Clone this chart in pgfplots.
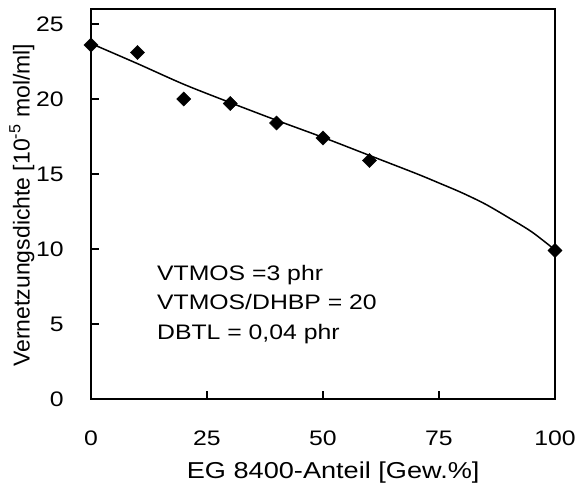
\documentclass[border=0pt]{standalone}
\usepackage{pgfplots}
\pgfplotsset{compat=1.18}
\usepackage{fontspec}
\setmainfont{Liberation Sans}
\pgfplotstableread{
x y
0 23.6
10 23.1
20 20.0
30 19.7
40 18.4
50 17.4
60 15.9
100 9.9
}\measured
\pgfplotstableread{
x y
0 23.70
10 22.36
20 20.98
30 19.76
40 18.58
50 17.44
60 16.24
70 15.04
75 14.40
80 13.74
85 12.99
90 12.09
95 11.14
100 9.94
}\fitcurve
\begin{document}
\begin{tikzpicture}
\begin{axis}[
  at={(0,0)}, anchor=south west,
  scale only axis, width=464pt, height=390pt,
  xmin=0, xmax=100, ymin=0, ymax=26,
  xtick={0,25,50,75,100}, ytick={0,5,10,15,20,25},
  tick pos=left, tick align=inside, major tick length=8pt,
  tick style={line width=1.5pt, black},
  axis line style={line width=2pt},
  font=\fontsize{21}{25}\selectfont,
  /pgf/number format/assume math mode=true,
  ticklabel style={font=\fontsize{21}{25}\selectfont, xscale=1.18},
  xticklabel style={anchor=base, yshift=-46pt},
  yticklabel style={anchor=east, inner sep=0pt, xshift=-23pt},
  xlabel={EG 8400-Anteil [Gew.\%]},
  ylabel={Vernetzungsdichte [10\textsuperscript{-5} mol/ml]},
  xlabel style={at={(axis description cs:0.522,-0.2026)}, anchor=base, font=\fontsize{23}{27}\selectfont, xscale=1.18},
  ylabel style={at={(axis description cs:-0.1325,0.497)}, anchor=base, font=\fontsize{23}{27}\selectfont},
  clip=false,
]
\addplot[black, line width=1.5pt, smooth, no marks] table {\fitcurve};
\addplot[only marks, mark=square*, mark size=5pt, mark options={rotate=45, fill=black, draw=black}] table {\measured};
\node[anchor=base west, inner sep=0pt, xscale=1.18] at (axis cs:14.2,7.93) {VTMOS =3 phr};
\node[anchor=base west, inner sep=0pt, xscale=1.18] at (axis cs:14.2,5.95) {VTMOS/DHBP = 20};
\node[anchor=base west, inner sep=0pt, xscale=1.18] at (axis cs:14.2,4.0) {DBTL = 0,04 phr};
\end{axis}
\pgfresetboundingbox
\path[use as bounding box] (-91pt,-89pt) rectangle (496pt,399pt);
\end{tikzpicture}
\end{document}
